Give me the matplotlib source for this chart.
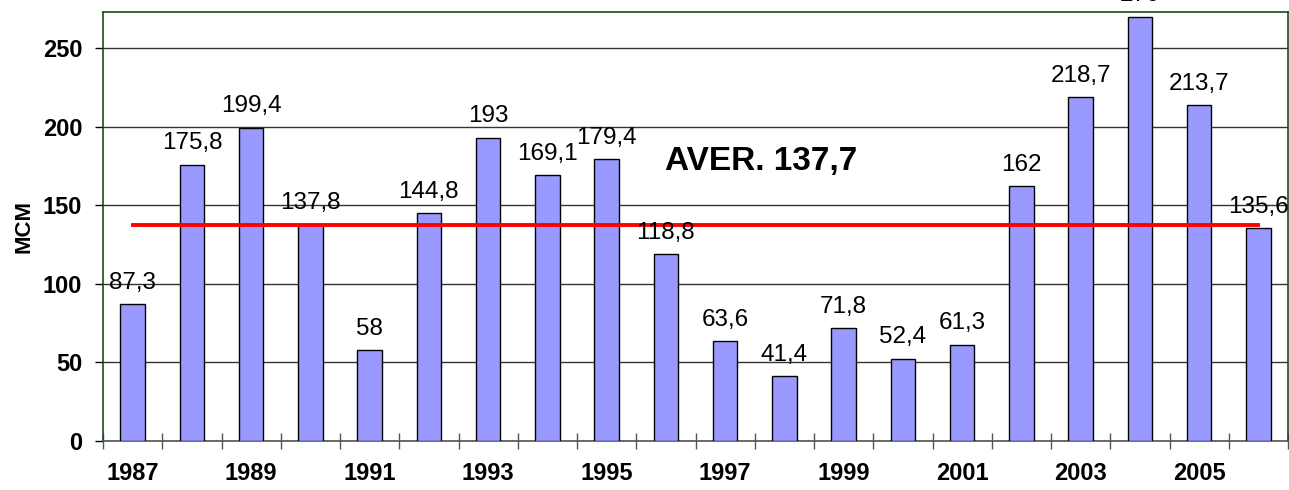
import matplotlib.pyplot as plt
import numpy as np

plt.rcParams['font.family'] = ['Liberation Sans', 'DejaVu Sans']

# --- Data ---
years = list(range(1987, 2007))
values = [87.3, 175.8, 199.4, 137.8, 58, 144.8, 193, 169.1, 179.4, 118.8,
          63.6, 41.4, 71.8, 52.4, 61.3, 162, 218.7, 270, 213.7, 135.6]
average = 137.7

x = np.arange(len(years))

fig = plt.figure(figsize=(12.89, 4.9), dpi=100)
ax = fig.add_axes([103 / 1289, 49 / 490, 1185 / 1289, 429 / 490])

ax.bar(x, values, width=0.41, color='#9999FF', edgecolor='black', linewidth=1, zorder=3)

# average line from first to last bar centre
ax.plot([x[0], x[-1]], [average, average], color='red', linewidth=2.8, zorder=4)
ax.text(10.6, 178, "AVER. " + f"{average:.1f}".replace('.', ','),
        fontsize=24, fontweight='bold', ha='center', va='center', zorder=5)

# data labels
for xi, v in zip(x, values):
    lab = f"{v:g}".replace('.', ',')
    ax.annotate(lab, (xi, v), xytext=(0, 11), textcoords='offset points',
                ha='center', va='baseline', fontsize=17.5, annotation_clip=False,
                clip_on=False, zorder=6)

ax.set_xlim(-0.5, len(years) - 0.5)
ax.set_ylim(0, 273)

# y axis
ax.set_yticks([0, 50, 100, 150, 200, 250])
ax.tick_params(axis='y', direction='out', length=6, width=1, pad=9, labelsize=17)
for t in ax.get_yticklabels():
    t.set_fontweight('bold')
ax.set_ylabel('MCM', fontsize=16, fontweight='bold', labelpad=6)
ax.yaxis.grid(True, color='#333333', linewidth=1, zorder=0)

# x axis: tick marks between categories, labels every other year
ax.set_xticks(x[::2])
ax.set_xticklabels([str(y) for y in years[::2]], fontsize=17, fontweight='bold')
ax.tick_params(axis='x', which='major', length=0, pad=15)
ax.set_xticks(np.arange(-0.5, len(years), 1), minor=True)
ax.tick_params(axis='x', which='minor', direction='inout', length=11, width=1, color='#555555')

for side in ['left', 'top', 'right']:
    ax.spines[side].set_color('#1a4d1a')
    ax.spines[side].set_linewidth(1.2)
ax.spines['bottom'].set_color('#555555')
ax.spines['bottom'].set_linewidth(1.2)

fig.savefig('out.png', dpi=100)
